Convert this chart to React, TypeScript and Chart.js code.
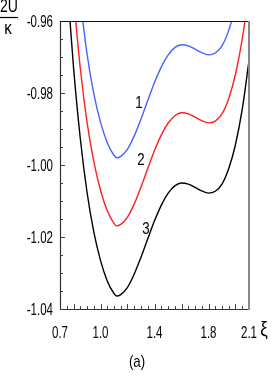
import React, { useEffect, useRef } from "react";
import { Chart, registerables } from "chart.js";

Chart.register(...registerables);

const xi1 = [0.85, 0.9, 0.95, 1.0, 1.05, 1.1, 1.12, 1.15, 1.2, 1.25, 1.3, 1.35, 1.4, 1.45, 1.5, 1.55, 1.6, 1.65, 1.7, 1.75, 1.8, 1.85, 1.9, 1.95, 2.0];
const curve1 = [-0.9541, -0.9691, -0.9801, -0.9881, -0.9938, -0.9973, -0.998, -0.9976, -0.9956, -0.9919, -0.9872, -0.9821, -0.9771, -0.9728, -0.9695, -0.9674, -0.9666, -0.9669, -0.9678, -0.9688, -0.9694, -0.9689, -0.9669, -0.9626, -0.9559];

const xi2 = [0.8, 0.85, 0.9, 0.95, 1.0, 1.05, 1.1, 1.12, 1.15, 1.2, 1.25, 1.3, 1.35, 1.4, 1.45, 1.5, 1.55, 1.6, 1.65, 1.7, 1.75, 1.8, 1.85, 1.9, 1.95, 2.0, 2.05, 2.1];
const curve2 = [-0.9533, -0.973, -0.988, -0.999, -1.007, -1.0127, -1.0162, -1.0169, -1.0165, -1.0145, -1.0108, -1.0061, -1.001, -0.996, -0.9917, -0.9884, -0.9863, -0.9855, -0.9858, -0.9867, -0.9877, -0.9883, -0.9878, -0.9858, -0.9815, -0.9748, -0.965, -0.9515];

const xi3 = [0.75, 0.8, 0.85, 0.9, 0.95, 1.0, 1.05, 1.1, 1.12, 1.15, 1.2, 1.25, 1.3, 1.35, 1.4, 1.45, 1.5, 1.55, 1.6, 1.65, 1.7, 1.75, 1.8, 1.85, 1.9, 1.95, 2.0, 2.05, 2.1];
const curve3 = [-0.9478, -0.9728, -0.9925, -1.0075, -1.0185, -1.0265, -1.0322, -1.0357, -1.0364, -1.036, -1.034, -1.0303, -1.0256, -1.0205, -1.0155, -1.0112, -1.0079, -1.0058, -1.005, -1.0053, -1.0062, -1.0072, -1.0078, -1.0073, -1.0053, -1.001, -0.9943, -0.9845, -0.971];

const xTickValues = [0.7, 1.0, 1.4, 1.8, 2.1];
const xTickLabels = ["0.7", "1.0", "1.4", "1.8", "2.1"];
const yTickValues = [-1.04, -1.02, -1.0, -0.98, -0.96];
const yTickLabels = ["-1.04", "-1.02", "-1.00", "-0.98", "-0.96"];

const curveLabels = ["1", "2", "3"];
const curveLabelPos = [
  [1.285, -0.9828],
  [1.3, -0.9987],
  [1.337, -1.0178],
];

const FONT = '"Liberation Sans", Arial, sans-serif';

function drawText(ctx: CanvasRenderingContext2D, text: string, x: number, y: number, size: number, align: CanvasTextAlign, sx: number) {
  ctx.save();
  ctx.font = size + "px " + FONT;
  ctx.textAlign = align;
  ctx.textBaseline = "middle";
  ctx.translate(x, y);
  ctx.scale(sx, 1);
  ctx.fillText(text, 0, 0);
  ctx.restore();
}

const framePlugin = {
  id: "frame",
  afterDraw(chart: any) {
    const ctx = chart.ctx;
    const { left, right, top, bottom } = chart.chartArea;
    const xs = chart.scales.x;
    const ys = chart.scales.y;
    ctx.save();
    ctx.strokeStyle = "#444";
    ctx.lineWidth = 1;
    ctx.beginPath();
    for (let i = 0; i <= 28; i++) {
      const v = 0.7 + i * 0.05;
      const px = Math.round(xs.getPixelForValue(v)) + 0.5;
      const r = Math.round(v * 100) % 20;
      const len = r === 0 ? 5 : 3;
      ctx.moveTo(px, bottom);
      ctx.lineTo(px, bottom - len);
    }
    for (let i = 0; i <= 16; i++) {
      const v = -1.04 + i * 0.005;
      const py = Math.round(ys.getPixelForValue(v)) + 0.5;
      const len = i % 4 === 0 ? 5 : 3;
      ctx.moveTo(left, py);
      ctx.lineTo(left + len, py);
    }
    ctx.stroke();
    ctx.lineWidth = 1.2;
    ctx.strokeStyle = "#333";
    ctx.beginPath();
    ctx.moveTo(left + 0.5, top);
    ctx.lineTo(left + 0.5, bottom + 0.5);
    ctx.lineTo(right, bottom + 0.5);
    ctx.stroke();
    ctx.strokeStyle = "#111";
    ctx.beginPath();
    ctx.moveTo(left, top + 0.5);
    ctx.lineTo(right, top + 0.5);
    ctx.stroke();
    ctx.strokeStyle = "#888";
    ctx.lineWidth = 2;
    ctx.beginPath();
    ctx.moveTo(right, top);
    ctx.lineTo(right, bottom + 1);
    ctx.stroke();

    ctx.fillStyle = "#000";
    yTickValues.forEach((v, i) => {
      drawText(ctx, yTickLabels[i], 53, ys.getPixelForValue(v) + 2, 16, "right", 0.72);
    });
    xTickValues.forEach((v, i) => {
      drawText(ctx, xTickLabels[i], xs.getPixelForValue(v), 334, 16, "center", 0.72);
    });
    curveLabels.forEach((t, i) => {
      drawText(ctx, t, xs.getPixelForValue(curveLabelPos[i][0]), ys.getPixelForValue(curveLabelPos[i][1]), 17, "center", 0.78);
    });
    drawText(ctx, "2U", 9, 7, 19, "center", 0.74);
    ctx.beginPath();
    ctx.strokeStyle = "#000";
    ctx.lineWidth = 1.2;
    ctx.moveTo(0, 17.5);
    ctx.lineTo(18, 17.5);
    ctx.stroke();
    drawText(ctx, "κ", 8, 29, 19, "center", 0.8);
    drawText(ctx, "ξ", 264, 330, 21, "center", 0.8);
    drawText(ctx, "(a)", 137, 362, 17, "center", 0.78);
    ctx.restore();
  },
};

export default function App() {
  const ref = useRef<HTMLCanvasElement | null>(null);
  useEffect(() => {
    if (!ref.current) return;
    const mk = (xs: number[], ys: number[]) => xs.map((x, i) => ({ x, y: ys[i] }));
    const chart = new Chart(ref.current, {
      type: "line",
      data: {
        datasets: [
          { data: mk(xi1, curve1), borderColor: "#4163ff", borderWidth: 1.4, pointRadius: 0, cubicInterpolationMode: "monotone", fill: false },
          { data: mk(xi2, curve2), borderColor: "#ff1f1f", borderWidth: 1.4, pointRadius: 0, cubicInterpolationMode: "monotone", fill: false },
          { data: mk(xi3, curve3), borderColor: "#000000", borderWidth: 1.4, pointRadius: 0, cubicInterpolationMode: "monotone", fill: false },
        ],
      },
      options: {
        animation: false,
        responsive: false,
        devicePixelRatio: 1,
        layout: { padding: { left: 0, top: 21, right: 24, bottom: 0 } },
        plugins: { legend: { display: false }, tooltip: { enabled: false } },
        scales: {
          x: {
            type: "linear",
            min: 0.7,
            max: 2.1,
            grid: { display: false, drawTicks: false },
            border: { display: false },
            ticks: { display: false },
            afterFit: (s: any) => {
              s.height = 72;
            },
          },
          y: {
            type: "linear",
            min: -1.04,
            max: -0.96,
            grid: { display: false, drawTicks: false },
            border: { display: false },
            ticks: { display: false },
            afterFit: (s: any) => {
              s.width = 60;
            },
          },
        },
      },
      plugins: [framePlugin],
    } as any);
    return () => chart.destroy();
  }, []);
  return (
    <div style={{ position: "absolute", left: 0, top: 0, width: 273, height: 381, background: "#fff" }}>
      <canvas ref={ref} width={273} height={381} style={{ width: 273, height: 381 }} />
    </div>
  );
}
